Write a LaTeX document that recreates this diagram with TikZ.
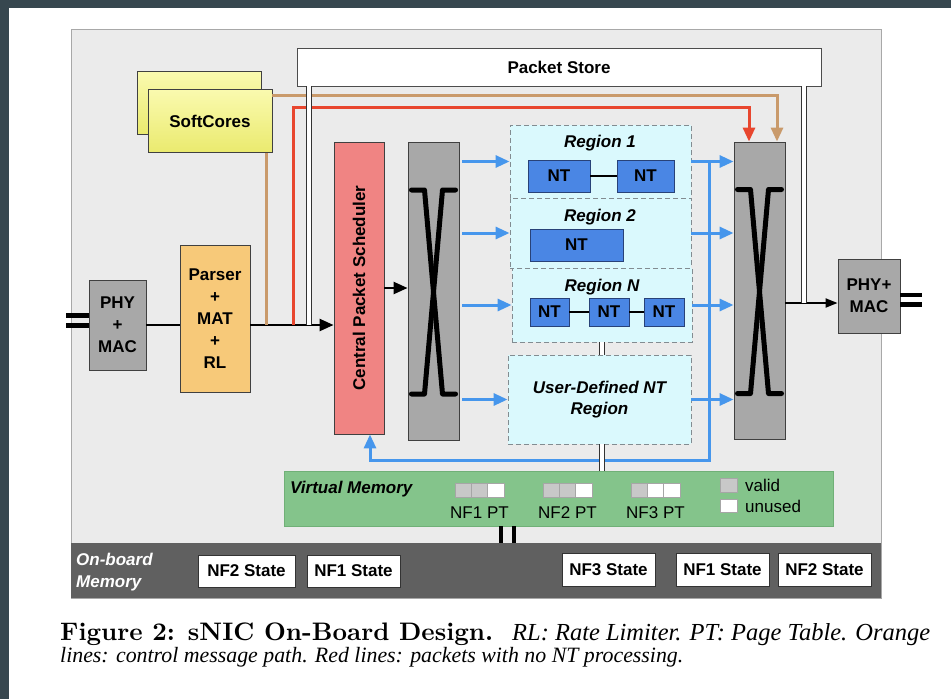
\documentclass[tikz,border=0pt]{standalone}
\usepackage{fontspec}
\setsansfont{Liberation Sans}
\newfontfamily\capfont{Liberation Serif}
\usepackage{graphicx}
\usepackage{tikz}
\usetikzlibrary{arrows.meta}

\definecolor{slate}{RGB}{55,71,79}
\definecolor{panelgray}{RGB}{235,235,235}
\definecolor{panelline}{RGB}{168,168,168}
\definecolor{memgray}{RGB}{96,96,96}
\definecolor{vmgreen}{RGB}{132,196,139}
\definecolor{vmline}{RGB}{112,176,119}
\definecolor{ntblue}{RGB}{74,134,228}
\definecolor{ntline}{RGB}{40,66,120}
\definecolor{regioncyan}{RGB}{218,249,253}
\definecolor{regionline}{RGB}{130,140,145}
\definecolor{cpsred}{RGB}{240,132,131}
\definecolor{parserorange}{RGB}{247,201,121}
\definecolor{phygray}{RGB}{168,168,168}
\definecolor{softtop}{RGB}{250,250,175}
\definecolor{softbot}{RGB}{234,234,110}
\definecolor{redline}{RGB}{232,70,46}
\definecolor{tanline}{RGB}{201,154,107}
\definecolor{blueline}{RGB}{70,150,236}
\definecolor{ptgray}{RGB}{200,200,200}

\begin{document}
\begin{tikzpicture}[x=1pt, y=-1pt,
    box/.style={draw=black!75, line width=0.9pt, inner sep=0pt, align=center,
        font=\sffamily\bfseries\fontsize{17}{22}\selectfont},
    region/.style={box, fill=regioncyan, draw=regionline, dash pattern=on 5pt off 3pt,
        font=\sffamily\bfseries\itshape\fontsize{17}{21}\selectfont},
    ntbox/.style={box, fill=ntblue, draw=ntline},
    statebox/.style={box, fill=white, draw=black!80, minimum width=93pt, minimum height=33pt},
    txt/.style={inner sep=0pt, align=center, font=\sffamily\bfseries\fontsize{17}{22}\selectfont},
    txtbi/.style={inner sep=0pt, align=center, font=\sffamily\bfseries\itshape\fontsize{17}{22}\selectfont},
    normtxt/.style={inner sep=0pt, font=\sffamily\fontsize{17}{20}\selectfont},
    link/.style={line width=2.4pt, black},
    tip/.style={-{Triangle[length=14pt, width=12pt]}},
    bline/.style={line width=3pt, blueline},
    rline/.style={line width=3pt, redline},
    tline/.style={line width=3pt, tanline},
    ntlink/.style={line width=1.5pt, black},
    dbl/.style={draw=black!80, line width=0.8pt, double=white, double distance=3.5pt},
    ext/.style={line width=4.5pt, black},
    xline/.style={line width=5pt, black, line cap=round, line join=round},
    ptcell/.style={draw=black!35, line width=0.6pt}]

% canvas
\useasboundingbox (0,0) rectangle (951,699);
\fill[white] (0,0) rectangle (951,699);
\fill[slate] (0,0) rectangle (951,8);
\fill[slate] (0,0) rectangle (9,699);

% board and on-board memory
\draw[fill=panelgray, draw=panelline, line width=0.9pt] (71,29) rectangle (881,598);
\node[fill=memgray, inner sep=0pt, minimum width=810pt, minimum height=55pt] (memory) at (476,570.5) {};
\node[txtbi, text=white, anchor=west, align=left] (memTitle) at (76,572) {On-board\\Memory};
\node[statebox, minimum width=97pt, minimum height=32pt] (nfTwoA) at (246.5,571) {NF2 State};
\node[statebox, minimum height=32pt] (nfOneA) at (353.5,571) {NF1 State};
\node[statebox] (nfThree) at (608.5,569.5) {NF3 State};
\node[statebox] (nfOneB) at (722.5,569.5) {NF1 State};
\node[statebox] (nfTwoB) at (824.5,569.5) {NF2 State};

% virtual memory
\node[box, fill=vmgreen, draw=vmline, minimum width=549pt, minimum height=55pt] (vm) at (558.5,498.5) {};
\node[txtbi, anchor=west] (vmTitle) at (290,489) {Virtual Memory};
\foreach \x/\fa/\fb/\fc/\n in {455/ptgray/ptgray/white/1, 543/ptgray/ptgray/white/2, 631/ptgray/white/white/3} {
    \draw[ptcell, fill=\fa] (\x,483) rectangle ++(16.3,14);
    \draw[ptcell, fill=\fb] (\x+16.3,483) rectangle ++(16.3,14);
    \draw[ptcell, fill=\fc] (\x+32.6,483) rectangle ++(16.3,14);
    \node[normtxt] (pt\n) at (\x+24.5,513) {NF\n\ PT};
}
\draw[ptcell, fill=ptgray] (720,478) rectangle (737,492);
\node[normtxt, anchor=west] (validTxt) at (745,485) {valid};
\draw[ptcell, fill=white] (720,499) rectangle (737,512);
\node[normtxt, anchor=west] (unusedTxt) at (745,506) {unused};

% top blocks
\node[box, fill=white, draw=black!70, minimum width=524pt, minimum height=38pt] (ps) at (559,67) {Packet Store};
\node[box, top color=softtop, bottom color=softbot, minimum width=124pt, minimum height=63pt] (softB) at (199,102.5) {};
\node[box, top color=softtop, bottom color=softbot, minimum width=124pt, minimum height=63pt] (softF) at (210,121) {SoftCores};

% pipeline
\node[box, fill=phygray, minimum width=57pt, minimum height=90pt] (phyL) at (117.5,325) {PHY\\+\\MAC};
\node[box, fill=parserorange, minimum width=70pt, minimum height=147pt] (parser) at (215,318.5) {Parser\\+\\MAT\\+\\RL};
\node[box, fill=cpsred, minimum width=50pt, minimum height=292pt] (cps) at (359,288) {};
\node[txt, rotate=90] (cpsText) at (cps.center) {Central Packet Scheduler};
\node[box, fill=phygray, minimum width=51pt, minimum height=298pt] (xbarL) at (433.5,291) {};
\node[box, fill=phygray, minimum width=51pt, minimum height=297pt] (xbarR) at (759.5,290.5) {};
\node[box, fill=phygray, minimum width=62pt, minimum height=74pt] (phyR) at (869,296) {PHY+\\MAC};

% crossbar wires
\foreach \b in {xbarL, xbarR} {
    \draw[xline] ([shift={(-22,-101)}]\b.center) -- ++(13,0) -- ([shift={(9,103)}]\b.center) -- ++(13,0);
    \draw[xline] ([shift={(22,-101)}]\b.center) -- ++(-13,0) -- ([shift={(-9,103)}]\b.center) -- ++(-13,0);
}

% regions
\node[region, minimum width=181pt, minimum height=73pt] (region1) at (600.5,161.5) {};
\node[region, minimum width=181pt, minimum height=70pt] (region2) at (600.5,233) {};
\node[region, minimum width=180pt, minimum height=74pt] (regionN) at (602,305) {};
\node[region, minimum width=183pt, minimum height=89pt] (udregion) at (599.5,399.5) {User-Defined NT\\Region};
\node[txtbi] (title1) at (600,143) {Region 1};
\node[txtbi] (title2) at (600,217) {Region 2};
\node[txtbi] (titleN) at (602,287) {Region N};
\node[ntbox, minimum width=62pt, minimum height=32pt] (nt1a) at (559,176) {NT};
\node[ntbox, minimum width=57pt, minimum height=32pt] (nt1b) at (645.5,176) {NT};
\node[ntbox, minimum width=93pt, minimum height=32pt] (nt2a) at (576.5,245) {NT};
\node[ntbox, minimum width=39pt, minimum height=28pt] (ntNa) at (549.5,312) {NT};
\node[ntbox, minimum width=40pt, minimum height=28pt] (ntNb) at (609,312) {NT};
\node[ntbox, minimum width=40pt, minimum height=28pt] (ntNc) at (664,312) {NT};
\draw[ntlink] (nt1a) -- (nt1b);
\draw[ntlink] (ntNa) -- (ntNb);
\draw[ntlink] (ntNb) -- (ntNc);

% packet path
\coordinate (inA) at (66,315.5);
\coordinate (inB) at (66,325.5);
\draw[ext] (inA) -- (inA -| phyL.west);
\draw[ext] (inB) -- (inB -| phyL.west);
\draw[link] (phyL.east) -- (phyL.east -| parser.west);
\draw[link, tip] (phyL.east -| parser.east) -- (phyL.east -| cps.west);
\draw[link, tip] (cps.east) -- (cps.east -| xbarL.west);
\foreach \r in {region1, region2, regionN, udregion} {
    \draw[bline, tip, shorten <=3pt] (xbarL.east |- \r.west) -- (\r.west);
    \draw[bline, tip] (\r.east) -- (\r.east -| xbarR.west);
}
\coordinate (fb) at (709,460);
\draw[bline, tip] (fb |- region1.east) -- (fb) -| ([xshift=11pt]cps.south);
\coordinate (psR) at (804,303);
\draw[line width=2pt, black, -{Triangle[length=12pt, width=9pt]}] (psR -| xbarR.east) -- (psR -| phyR.west);
\coordinate (outA) at (922,295);
\coordinate (outB) at (922,304.5);
\draw[ext] (outA -| phyR.east) -- (outA);
\draw[ext] (outB -| phyR.east) -- (outB);

% control and bypass paths
\coordinate (tanA) at ([yshift=-6pt]softF.north east);
\draw[tline, tip] (tanA) -| ([xshift=17.5pt]xbarR.north);
\coordinate (tanB) at (266,325);
\draw[tline] (tanB) -- (tanB |- softF.south);
\coordinate (redA) at (293,107);
\draw[rline, tip] (redA |- phyL.east) -- (redA) -| ([xshift=-10.5pt]xbarR.north);

% memory links
\coordinate (psL) at (309,325);
\draw[dbl] (psL) -- (psL |- ps.south);
\draw[dbl] (psR) -- (psR |- ps.south);
\draw[dbl] (regionN.south) -- (regionN.south |- udregion.north);
\draw[dbl] (regionN.south |- udregion.south) -- (regionN.south |- vm.north);
\coordinate (vmA) at (501,526);
\coordinate (vmB) at (514,526);
\draw[ext, line width=4pt] (vmA |- vm.south) -- (vmA |- memory.north);
\draw[ext, line width=4pt] (vmB |- vm.south) -- (vmB |- memory.north);

% caption
\node[anchor=base west, inner sep=0pt] (capA) at (60,640) {\resizebox{433pt}{!}{\bfseries Figure 2: sNIC On-Board Design.}};
\node[anchor=base west, inner sep=0pt] (capB) at (512,640) {\resizebox{418pt}{!}{\capfont\itshape RL: Rate Limiter. PT: Page Table. Orange}};
\node[anchor=base west, inner sep=0pt] (capC) at (60,662) {\resizebox{623pt}{!}{\capfont\itshape lines: control message path. Red lines: packets with no NT processing.}};

\end{tikzpicture}
\end{document}
